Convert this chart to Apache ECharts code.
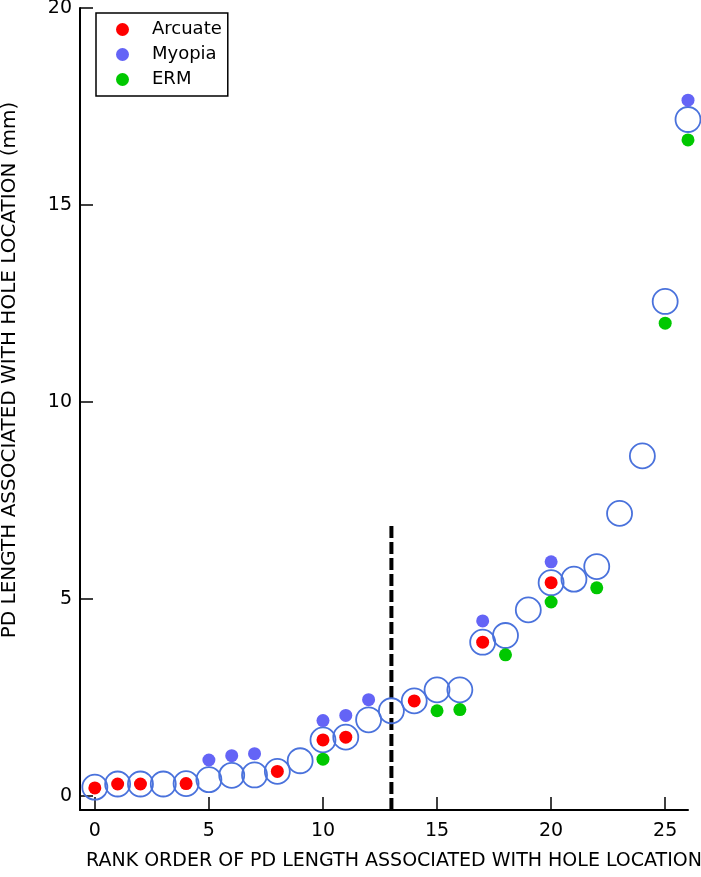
<!DOCTYPE html>
<html>
<head>
<meta charset="utf-8">
<script src="https://cdn.jsdelivr.net/npm/echarts@6/dist/echarts.min.js"></script>
<style>
  html, body { margin: 0; padding: 0; background: #fff; }
  #pd_chart { width: 701px; height: 877px; }
</style>
</head>
<body>
<div id="pd_chart"></div>
<script>
// rank order -> PD length (mm), all holes
var rankAll = [0,1,2,3,4,5,6,7,8,9,10,11,12,13,14,15,16,17,18,19,20,21,22,23,24,25,26];
var pdLength = [0.22,0.30,0.30,0.30,0.31,0.41,0.52,0.53,0.62,0.89,1.42,1.49,1.93,2.16,2.41,2.69,2.69,3.90,4.07,4.72,5.41,5.50,5.82,7.17,8.63,12.55,17.17];

// groups
var arcuateRank = [0,1,2,4,8,10,11,14,17,20];
var arcuateLength = [0.20,0.30,0.30,0.31,0.62,1.42,1.49,2.41,3.90,5.41];
var myopiaRank = [5,6,7,10,11,12,17,20,26];
var myopiaLength = [0.91,1.02,1.07,1.91,2.04,2.44,4.44,5.94,17.66];
var ermRank = [10,15,16,18,20,22,25,26];
var ermLength = [0.93,2.16,2.19,3.58,4.92,5.28,12.0,16.65];

var xTicks = [0,5,10,15,20,25];
var yTicks = [0,5,10,15,20];
var dividerRank = 13;
var dividerTop = 6.9;

function pairs(xs, ys) {
  return xs.map(function (x, i) { return [x, ys[i]]; });
}

var font = "DejaVu Sans";
var pd_chart = echarts.init(document.getElementById("pd_chart"));
var option = {
  animation: false,
  grid: {
    left: 80,
    right: 13,
    top: 8,
    bottom: 67,
    outerBoundsMode: "none",
  },
  // y axis title sits a bit above the axis middle, so it is placed by hand
  graphic: [
    {
      type: "text",
      x: 10,
      y: 370,
      rotation: Math.PI / 2,
      style: {
        text: "PD LENGTH ASSOCIATED WITH HOLE LOCATION (mm)",
        fontFamily: font,
        fontSize: 20,
        fill: "#000",
        align: "center",
        verticalAlign: "middle",
      },
    },
  ],
  legend: {
    data: ["Arcuate", "Myopia", "ERM"],
    orient: "vertical",
    left: 96,
    top: 13,
    padding: [7, 6, 7, 20],
    itemGap: 6,
    itemWidth: 13,
    itemHeight: 13,
    borderColor: "#000",
    borderWidth: 1.5,
    selectedMode: false,
    textStyle: {
      fontFamily: font,
      fontSize: 18,
      lineHeight: 19,
      color: "#000",
      padding: [0, 0, 0, 18],
    },
  },
  xAxis: {
    type: "value",
    min: -0.65,
    max: 26,
    name: "RANK ORDER OF PD LENGTH ASSOCIATED WITH HOLE LOCATION",
    nameLocation: "middle",
    nameGap: 42,
    nameTextStyle: { fontFamily: font, fontSize: 19, color: "#000", padding: [0, 0, 0, 20] },
    axisLine: { onZero: false, lineStyle: { color: "#000", width: 2 } },
    axisTick: { inside: true, length: 13, customValues: xTicks, lineStyle: { color: "#000", width: 1.5 } },
    axisLabel: { customValues: xTicks, margin: 12, fontFamily: font, fontSize: 19, color: "#000" },
    splitLine: { show: false },
  },
  yAxis: {
    type: "value",
    min: -0.36,
    max: 20,
    axisLine: { show: true, onZero: false, lineStyle: { color: "#000", width: 2 } },
    axisTick: { show: true, inside: true, length: 13, customValues: yTicks, lineStyle: { color: "#000", width: 1.5 } },
    axisLabel: { customValues: yTicks, margin: 8, fontFamily: font, fontSize: 19, color: "#000" },
    splitLine: { show: false },
  },
  series: [
    {
      name: "All",
      type: "scatter",
      symbol: "circle",
      symbolSize: 25,
      itemStyle: { color: "transparent", borderColor: "#4a72dc", borderWidth: 1.8, opacity: 1 },
      data: pairs(rankAll, pdLength),
      z: 2,
    },
    {
      name: "divider",
      type: "line",
      symbol: "none",
      lineStyle: { color: "#000", width: 4, type: [12, 4] },
      data: [[dividerRank, -0.36], [dividerRank, dividerTop]],
      z: 1,
    },
    {
      name: "Arcuate",
      type: "scatter",
      symbolSize: 13,
      itemStyle: { color: "#ff0000", opacity: 1 },
      data: pairs(arcuateRank, arcuateLength),
      z: 3,
    },
    {
      name: "Myopia",
      type: "scatter",
      symbolSize: 13,
      itemStyle: { color: "#6464f6", opacity: 1 },
      data: pairs(myopiaRank, myopiaLength),
      z: 3,
    },
    {
      name: "ERM",
      type: "scatter",
      symbolSize: 13,
      itemStyle: { color: "#00c800", opacity: 1 },
      data: pairs(ermRank, ermLength),
      z: 3,
    },
  ],
};
pd_chart.setOption(option);
</script>
</body>
</html>
